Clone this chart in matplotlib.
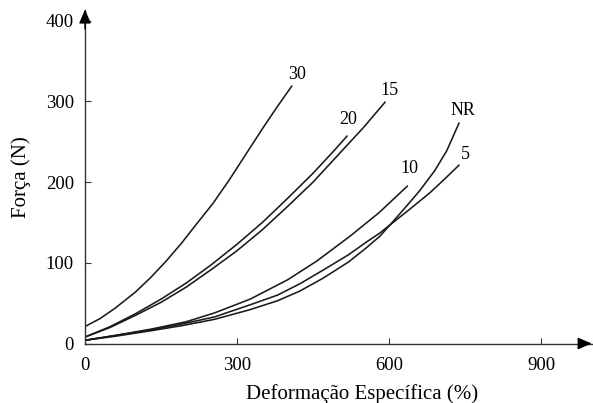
import matplotlib
matplotlib.use('Agg')
import matplotlib.pyplot as plt

plt.rcParams['font.family'] = ['Liberation Serif', 'DejaVu Serif']

# curves (deformation %, force N)
x_30 = [0, 30, 60, 100, 130, 160, 190, 220, 253, 286, 320, 352, 380, 408]
y_30 = [21, 31, 44, 64, 82, 102, 124, 148, 174, 204, 237, 268, 294, 319]

x_20 = [0, 50, 100, 150, 200, 250, 300, 350, 400, 450, 490, 517]
y_20 = [8, 21, 37, 55, 75, 98, 123, 150, 180, 211, 238, 257]

x_15 = [0, 50, 100, 150, 200, 250, 300, 350, 400, 450, 500, 550, 592]
y_15 = [8, 20, 35, 51, 70, 92, 115, 141, 170, 200, 234, 268, 299]

x_10 = [0, 60, 132, 200, 256, 326, 400, 457, 523, 580, 636]
y_10 = [4, 10, 18, 27, 38, 55, 79, 102, 133, 162, 195]

x_nr = [0, 60, 132, 190, 256, 326, 380, 424, 470, 520, 556, 582, 602, 630, 660, 690, 714, 738]
y_nr = [4, 9, 16, 22, 30, 42, 53, 65, 81, 101, 119, 133, 147, 167, 189, 214, 239, 273]

x_5 = [0, 60, 132, 190, 256, 326, 380, 424, 470, 520, 556, 582, 602, 640, 681, 710, 738]
y_5 = [4, 10, 17, 24, 33, 48, 60, 74, 91, 110, 126, 137, 147, 166, 187, 204, 221]

curve_labels = ['30', '20', '15', 'NR', '5', '10']
label_x = [418, 519, 600, 745, 750, 640]
label_y = [334, 278, 314, 289, 234, 217]

x_ticks = [0, 300, 600, 900]
y_ticks = [0, 100, 200, 300, 400]

fig = plt.figure(figsize=(5.93, 4.03), dpi=100)
ax = fig.add_axes([85 / 593, 59.5 / 403, 506.7 / 593, 334 / 403])

for xs, ys in [(x_30, y_30), (x_20, y_20), (x_15, y_15),
               (x_10, y_10), (x_nr, y_nr), (x_5, y_5)]:
    ax.plot(xs, ys, color='#1a1a1a', lw=1.15, solid_joinstyle='round')

for txt, tx, ty in zip(curve_labels, label_x, label_y):
    ax.text(tx, ty, txt, fontsize=13, ha='center', va='center')

ax.set_xlim(0, 1000)
ax.set_ylim(0, 414)
ax.set_xticks(x_ticks)
ax.set_yticks(y_ticks)

for s in ['top', 'right']:
    ax.spines[s].set_visible(False)
for s in ['left', 'bottom']:
    ax.spines[s].set_color('#333333')
    ax.spines[s].set_linewidth(1.0)

ax.tick_params(direction='in', length=4, width=0.8, color='#333333', labelsize=13.5)
ax.tick_params(axis='x', pad=10)
ax.tick_params(axis='y', pad=8)

# arrow heads on the axes
head = '-|>,head_length=0.7,head_width=0.3'
ax.annotate('', xy=(1000, 0), xytext=(975, 0), xycoords='data',
            arrowprops=dict(arrowstyle=head, mutation_scale=12,
                            color='black', lw=1.0, shrinkA=0, shrinkB=0),
            annotation_clip=False)
ax.annotate('', xy=(0, 414), xytext=(0, 390), xycoords='data',
            arrowprops=dict(arrowstyle=head, mutation_scale=12,
                            color='black', lw=1.0, shrinkA=0, shrinkB=0),
            annotation_clip=False)

ax.set_xlabel('Deformação Específica (%)', fontsize=15)
ax.set_ylabel('Força (N)', fontsize=15)
ax.xaxis.set_label_coords((362 - 85) / 506.7, -(384 - 343.5) / 334)
ax.yaxis.set_label_coords((31 - 85) / 506.7, (343.5 - 177) / 334)

fig.savefig('out.png', dpi=100)
